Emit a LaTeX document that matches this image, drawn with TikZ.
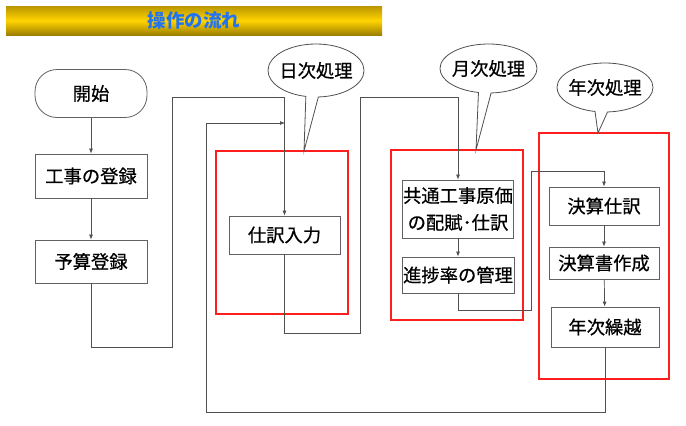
\documentclass[tikz,border=0pt]{standalone}
\usepackage{fontspec}
\setmainfont{Noto Sans CJK JP}
\newfontfamily\jpm{Noto Sans CJK JP}[FakeBold=0.6]
\usetikzlibrary{arrows.meta,shapes.callouts,shapes.geometric}
\definecolor{titleblue}{RGB}{35,115,240}
\definecolor{golddark}{RGB}{185,150,0}
\definecolor{goldlight}{RGB}{255,212,0}
\definecolor{redline}{RGB}{255,30,30}
\definecolor{lineg}{RGB}{80,80,80}
\tikzset{
  box/.style={draw=lineg!90, line width=0.8pt, fill=white, inner sep=0pt, font=\jpm\fontsize{18.3}{20}\selectfont, align=center},
  term/.style={box, rounded corners=22pt},
  redbox/.style={draw=redline, line width=1.5pt},
  conn/.style={draw=lineg, line width=0.7pt},
  arr/.style={conn, -{Latex[length=5pt,width=4pt]}},
  bubble/.style={ellipse callout, draw=lineg, line width=0.8pt, fill=white, inner ysep=0pt, inner xsep=-10pt, font=\jpm\fontsize{18.3}{20}\selectfont}
}
\begin{document}
\begin{tikzpicture}[x=1pt,y=-1pt]
\useasboundingbox (0,0) rectangle (686,426);
% title bar
\shade[top color=golddark, bottom color=golddark!85!black, middle color=goldlight] (6,6) rectangle (382,35);
\node[font=\fontsize{18.5}{20}\selectfont\bfseries, text=titleblue] (title) at (194,20.5) {操作の流れ};

% red group boxes
\draw[redbox] (216,151) rectangle (348,314);
\draw[redbox] (391,150) rectangle (523,320);
\draw[redbox] (539,133) rectangle (669,379);

% connector turning points
\coordinate (a1) at (172,97);
\coordinate (b1) at (206,412);
\coordinate (b2) at (285,123);
\coordinate (c1) at (360,97);
\coordinate (d1) at (531,171);

% nodes
\node[term, minimum width=112pt, minimum height=48pt] (start) at (91,93.5) {開始};
\node[box, minimum width=112pt, minimum height=44pt] (koji) at (91,176) {工事の登録};
\node[box, minimum width=112pt, minimum height=43pt] (yosan) at (91,261.5) {予算登録};
\node[box, minimum width=111pt, minimum height=38pt] (shiwake) at (284.5,235) {仕訳入力};
\node[box, minimum width=111pt, minimum height=58pt, font=\jpm\fontsize{18.3}{27}\selectfont] (kyotsu) at (458,209) {共通工事原価\\の配賦･仕訳};
\node[box, minimum width=112pt, minimum height=36pt] (shinchoku) at (458,275) {進捗率の管理};
\node[box, minimum width=110pt, minimum height=38pt] (kessan) at (604,206) {決算仕訳};
\node[box, minimum width=110pt, minimum height=32pt] (kessansho) at (604,263) {決算書作成};
\node[box, minimum width=108pt, minimum height=40pt] (nenji) at (605,327) {年次繰越};

% callouts
\node[bubble, minimum width=96pt, minimum height=53pt, callout absolute pointer={(304,151)}] (cb1) at (316,70.5) {日次処理};
\node[bubble, minimum width=97pt, minimum height=49pt, callout absolute pointer={(476,150)}] (cb2) at (488.5,68.5) {月次処理};
\node[bubble, minimum width=96pt, minimum height=49pt, callout absolute pointer={(598,133)}] (cb3) at (605,87.5) {年次処理};

% connectors
\draw[arr] (start) -- (koji);
\draw[arr] (koji) -- (yosan);
\draw[arr] (yosan.south) |- (172,347) -- (a1) -| (shiwake.north);
\draw[arr] (nenji.south) |- (b1) |- (b2);
\draw[arr] (shiwake.south) |- (360,333) -- (c1) -| (kyotsu.north);
\draw[arr] (kyotsu) -- (shinchoku);
\draw[arr] (shinchoku.south) |- (531,310) -- (d1) -| (kessan.north);
\draw[arr] (kessan) -- (kessansho);
\draw[arr] (kessansho) -- (nenji);
\end{tikzpicture}
\end{document}
